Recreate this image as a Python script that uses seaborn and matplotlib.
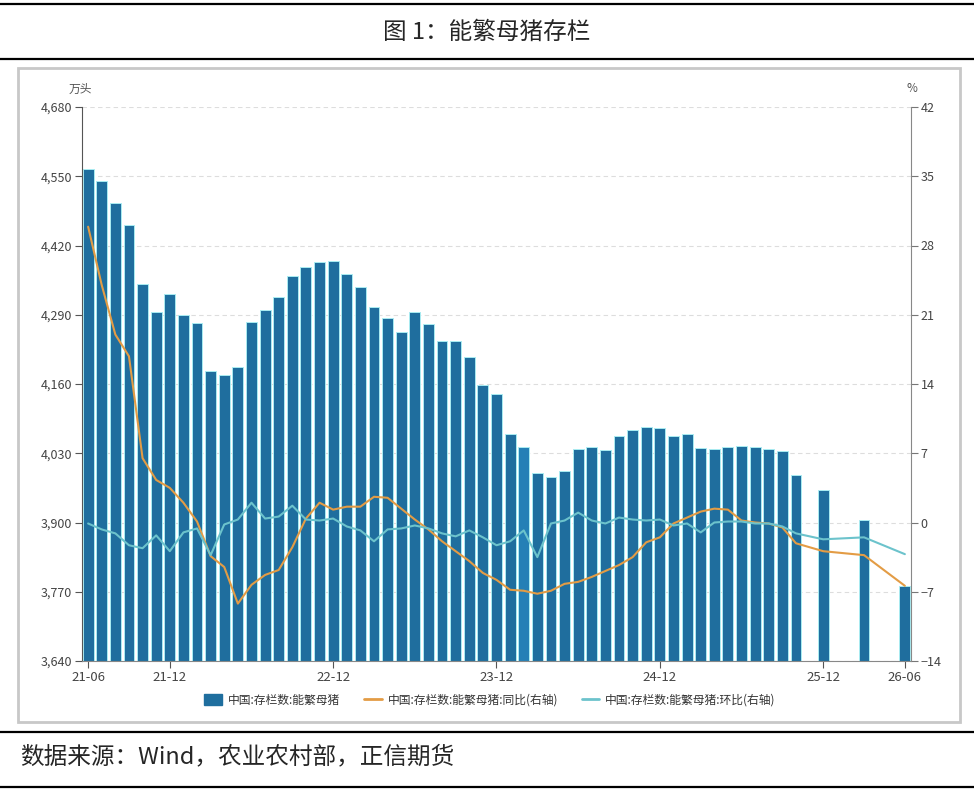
import matplotlib
matplotlib.use("Agg")
import matplotlib.pyplot as plt
from matplotlib.patches import Rectangle, FancyBboxPatch
from matplotlib.lines import Line2D
from matplotlib.ticker import FuncFormatter
import seaborn as sns
import numpy as np
import pandas as pd

sns.set_style("white")
plt.rcParams["font.family"] = ["Noto Sans CJK SC", "DejaVu Sans"]

# data (monthly; last three points are quarterly)
months = list(pd.period_range("2021-06", "2025-10", freq="M").strftime("%y-%m")) + [
    "25-12", "26-03", "26-06"]

stock = [4564, 4541, 4500, 4459, 4348, 4296, 4329, 4290, 4274, 4185,
         4177, 4192, 4277, 4298, 4324, 4362, 4379, 4389, 4390, 4367,
         4343, 4305, 4284, 4258, 4296, 4273, 4241, 4240, 4210, 4158,
         4142, 4067, 4042, 3992, 3986, 3996, 4038, 4042, 4036, 4062,
         4074, 4080, 4078, 4062, 4066, 4039, 4038, 4042, 4043, 4042,
         4038, 4035, 3990, 3961, 3905, 3781]

yoy = [29.9, 24.0, 19.0, 16.8, 6.5, 4.3, 3.5, 2.0, 0.1, -3.4,
       -4.5, -8.2, -6.3, -5.3, -4.8, -2.5, 0.4, 2.0, 1.3, 1.6,
       1.6, 2.6, 2.5, 1.4, 0.3, -0.7, -1.9, -2.9, -3.9, -5.1,
       -5.8, -6.8, -6.9, -7.2, -6.9, -6.2, -6.0, -5.5, -4.9, -4.3,
       -3.5, -2.0, -1.5, -0.1, 0.5, 1.1, 1.4, 1.3, 0.2, 0.0,
       -0.1, -0.5, -2.1, -2.9, -3.3, -6.4]

mom = [-0.1, -0.7, -1.1, -2.3, -2.6, -1.3, -2.9, -1.0, -0.6, -3.3,
       -0.2, 0.3, 2.0, 0.4, 0.6, 1.7, 0.3, 0.2, 0.4, -0.4,
       -0.8, -1.9, -0.7, -0.6, -0.3, -0.6, -1.1, -1.4, -0.8, -1.5,
       -2.3, -1.9, -0.8, -3.5, -0.1, 0.2, 1.0, 0.2, -0.1, 0.5,
       0.3, 0.2, 0.3, -0.3, -0.1, -1.0, 0.0, 0.1, 0.1, -0.1,
       -0.1, -0.4, -1.1, -1.7, -1.5, -3.2]

tick_months = ["21-06", "21-12", "22-12", "23-12", "24-12", "25-12", "26-06"]
highlight_month = "24-02"

names = ["中国:存栏数:能繁母猪", "中国:存栏数:能繁母猪:同比(右轴)", "中国:存栏数:能繁母猪:环比(右轴)"]

# monthly time axis 21-06 .. 26-06
axis_months = list(pd.period_range("2021-06", "2026-06", freq="M").strftime("%y-%m"))
pos = {m: i for i, m in enumerate(axis_months)}

df = pd.DataFrame({"month": months, "stock": stock, "yoy": yoy, "mom": mom})
df["x"] = df["month"].map(pos)

bar_color = "#1f6e9e"
orange = "#e39c45"
teal = "#6cc3cc"

fig = plt.figure(figsize=(9.74, 7.92), dpi=100)

# decorations: rules and chart frame
for yy in [4, 59, 732, 787]:
    fig.add_artist(Line2D([0, 1], [1 - yy / 792, 1 - yy / 792], color="black", lw=1.6,
                          transform=fig.transFigure))
fig.add_artist(Rectangle((18 / 974, 1 - 722 / 792), (960 - 18) / 974, (722 - 68) / 792,
                         transform=fig.transFigure, fill=False, edgecolor="#c8c8c8", lw=2))
fig.text(0.5, 1 - 32 / 792, "图 1：能繁母猪存栏", ha="center", va="center", fontsize=17)
fig.text(20 / 974, 1 - 757 / 792, "数据来源：Wind，农业农村部，正信期货",
         ha="left", va="center", fontsize=17)

ax = fig.add_axes([82 / 974, 1 - 661 / 792, (911 - 82) / 974, (661 - 107) / 792])

sns.barplot(data=df, x="x", y="stock", native_scale=True, color=bar_color, width=0.8,
            edgecolor="#a9ecf2", linewidth=0.7, errorbar=None, saturation=1, ax=ax)
for patch, m in zip(ax.patches, df["month"]):
    if m == highlight_month:
        patch.set_facecolor("#2580b6")

ax.set_ylim(3640, 4680)
ax.set_yticks(np.arange(3640, 4681, 130))
ax.yaxis.set_major_formatter(FuncFormatter(lambda v, p: f"{int(v):,}"))
ax.set_xticks([pos[m] for m in tick_months])
ax.set_xticklabels(tick_months)
ax.set_xlabel("")
ax.set_ylabel("")
ax.set_axisbelow(True)
ax.yaxis.grid(True, color="#dddddd", linestyle=(0, (4, 3)), lw=0.8)
ax.xaxis.grid(False)
for s in ["top", "right"]:
    ax.spines[s].set_visible(False)
ax.spines["left"].set_color("#555555")
ax.spines["bottom"].set_color("#888888")
ax.tick_params(axis="y", length=5, width=0.8, color="#555555", labelsize=9,
               labelcolor="#444444", left=True, pad=2)
ax.tick_params(axis="x", length=5, width=0.8, color="#555555", labelsize=9.5,
               labelcolor="#444444", bottom=True, pad=2)

ax2 = ax.twinx()
sns.lineplot(data=df, x="x", y="yoy", color=orange, lw=1.5, ax=ax2)
sns.lineplot(data=df, x="x", y="mom", color=teal, lw=1.5, ax=ax2)
ax2.set_ylim(-14, 42)
ax2.set_yticks(np.arange(-14, 43, 7))
ax2.set_ylabel("")
ax2.set_xlabel("")
for s in ["top", "left", "bottom"]:
    ax2.spines[s].set_visible(False)
ax2.spines["right"].set_color("#888888")
ax2.tick_params(axis="y", length=5, width=0.8, color="#777777", labelsize=9,
                labelcolor="#444444", right=True, pad=2)
ax.set_xlim(-0.45, len(axis_months) - 1 + 0.45)

fig.text(80 / 974, 1 - 89 / 792, "万头", ha="center", va="center", fontsize=8.5, color="#555555")
fig.text(912 / 974, 1 - 89 / 792, "%", ha="center", va="center", fontsize=8.5, color="#555555")

handles = [
    FancyBboxPatch((0, 0), 1, 1, boxstyle="round,pad=0.1", facecolor=bar_color, edgecolor=bar_color),
    Line2D([], [], color=orange, lw=2),
    Line2D([], [], color=teal, lw=2),
]
fig.legend(handles, names, loc="center", bbox_to_anchor=(490 / 974, 1 - 700 / 792), ncol=3,
           frameon=False, fontsize=8.5, handlelength=1.5, handleheight=1.1, columnspacing=2.0,
           handletextpad=0.5, labelcolor="#333333")

fig.savefig("out.png", dpi=100)
